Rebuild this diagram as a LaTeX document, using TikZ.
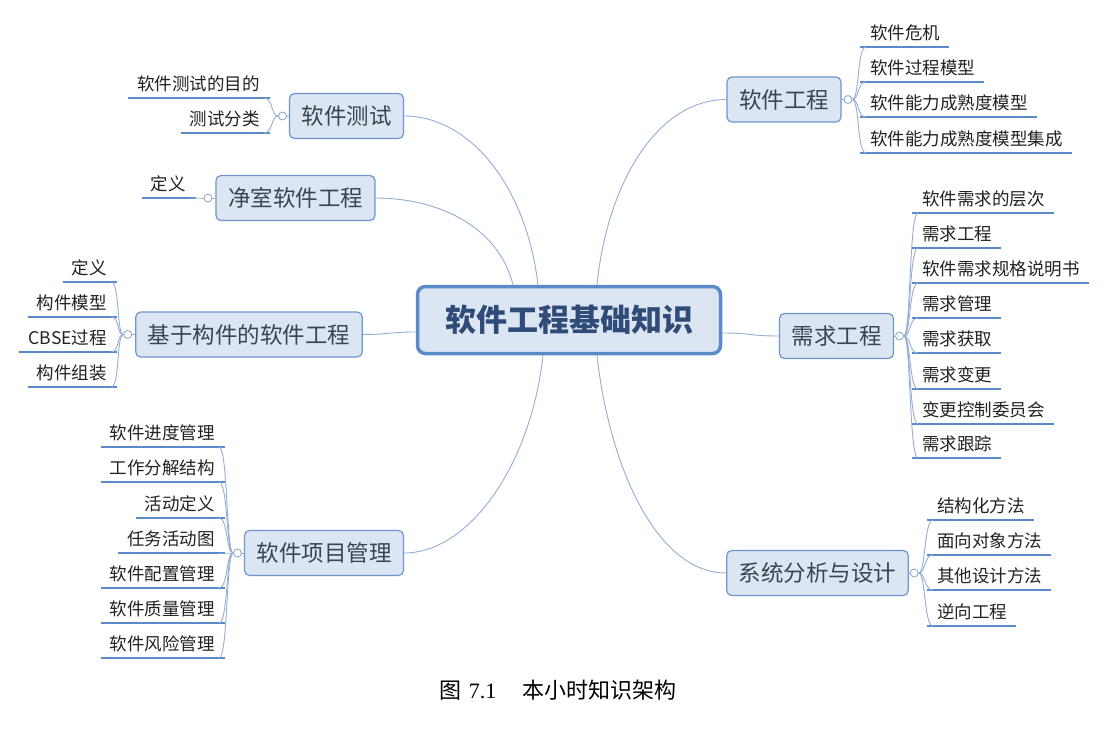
\documentclass[tikz,border=0pt]{standalone}
\usepackage{fontspec}
\setmainfont{Noto Sans CJK SC}
\newfontfamily\capserif{Liberation Serif}
\definecolor{topicline}{HTML}{6D96CE}
\definecolor{topicfill}{HTML}{DCE6F2}
\definecolor{topictext}{HTML}{3B4452}
\definecolor{roottext}{HTML}{2F4C78}
\definecolor{rootline}{HTML}{5A8AC8}
\definecolor{leaftext}{HTML}{222222}
\definecolor{connc}{HTML}{94AED5}
\definecolor{ulinec}{HTML}{5B8AC9}
\definecolor{dotc}{HTML}{8AA2C4}
\tikzset{
  topic/.style={draw=topicline, fill=topicfill, line width=1.2pt, rounded corners=5pt,
    minimum height=45pt, inner xsep=12pt, text=topictext, font=\fontsize{22.5}{26}\selectfont},
  rootbox/.style={draw=rootline, fill=topicfill, line width=3.5pt, rounded corners=8pt,
    minimum width=303pt, minimum height=67pt, text=roottext, font=\fontsize{31}{36}\selectfont\bfseries},
  leaf/.style={inner xsep=9pt, inner ysep=0pt, text=leaftext, font=\fontsize{17.5}{20}\selectfont},
  conn/.style={draw=connc, line width=0.9pt},
  uline/.style={draw=ulinec, line width=2.2pt},
  dot/.style={circle, draw=dotc, fill=white, line width=0.8pt, minimum size=8pt, inner sep=0pt},
}
\newcommand\rleaf[5]{%
  \node[leaf, anchor=base west] (#1) at (#3+1,#4-8) {#5};
  \coordinate (#1u) at (#3,#4);
  \draw[uline] (#1u) -- (#1.east |- #1u);
  \draw[conn] (#2.east) .. controls +(7,0) and +(-9,0) .. ([xshift=6pt]#1u);
}
\newcommand\lleaf[5]{%
  \node[leaf, anchor=base east] (#1) at (#3-1,#4-8) {#5};
  \coordinate (#1u) at (#3,#4);
  \draw[uline] (#1.west |- #1u) -- (#1u);
  \draw[conn] (#2.west) .. controls +(-7,0) and +(9,0) .. ([xshift=-6pt]#1u);
}
\begin{document}
\begin{tikzpicture}[x=1pt,y=-1pt]
\fill[white] (0,0) rectangle (1120,742);
\path[use as bounding box] (0,0) rectangle (1120,742);

% root
\node[rootbox] (root) at (569,320) {软件工程基础知识};

% main topics
\node[topic] (se)  at (784,99.5)  {软件工程};
\node[topic] (re)  at (836.5,336) {需求工程};
\node[topic] (sad) at (817.5,573) {系统分析与设计};
\node[topic] (st)  at (346.5,116) {软件测试};
\node[topic] (cr)  at (295.5,198) {净室软件工程};
\node[topic] (cb)  at (249,334.5) {基于构件的软件工程};
\node[topic] (pm)  at (324,553)   {软件项目管理};

% main connectors
\draw[conn] ([xshift=28pt]root.north) .. controls +(10,-100) and +(-70,0) .. (se.west);
\draw[conn] ([yshift=-13pt]root.east) .. controls +(28,0) and +(-28,0) .. (re.west);
\draw[conn] ([xshift=28pt]root.south) .. controls +(12,110) and +(-70,0) .. (sad.west);
\draw[conn] ([xshift=-31pt]root.north) .. controls +(-12,-100) and +(65,0) .. (st.east);
\draw[conn] ([xshift=-56pt]root.north) .. controls +(-15,-60) and +(60,0) .. (cr.east);
\draw[conn] ([yshift=-12pt]root.west) .. controls +(-25,0) and +(25,0) .. (cb.east);
\draw[conn] ([xshift=-26pt]root.south) .. controls +(-12,110) and +(65,0) .. (pm.east);

% collapse dots
\draw[conn] (se.east) -- ++(2,0) node[dot, anchor=west] (dse) {};
\draw[conn] (re.east) -- ++(1,0) node[dot, anchor=west] (dre) {};
\draw[conn] (sad.east) -- ++(1,0) node[dot, anchor=west] (dsad) {};
\draw[conn] (st.west) -- ++(-2,0) node[dot, anchor=east] (dst) {};
\draw[conn] (cr.west) -- ++(-3,0) node[dot, anchor=east] (dcr) {};
\draw[conn] (cb.west) -- ++(-3,0) node[dot, anchor=east] (dcb) {};
\draw[conn] (pm.west) -- ++(-2,0) node[dot, anchor=east] (dpm) {};

% 软件工程
\rleaf{a1}{dse}{860}{47}{软件危机}
\rleaf{a2}{dse}{860}{82}{软件过程模型}
\rleaf{a3}{dse}{860}{117}{软件能力成熟度模型}
\rleaf{a4}{dse}{860}{153}{软件能力成熟度模型集成}

% 需求工程
\rleaf{b1}{dre}{912}{213}{软件需求的层次}
\rleaf{b2}{dre}{912}{248}{需求工程}
\rleaf{b3}{dre}{912}{283}{软件需求规格说明书}
\rleaf{b4}{dre}{912}{318}{需求管理}
\rleaf{b5}{dre}{912}{353}{需求获取}
\rleaf{b6}{dre}{912}{389}{需求变更}
\rleaf{b7}{dre}{912}{424}{变更控制委员会}
\rleaf{b8}{dre}{912}{458}{需求跟踪}

% 系统分析与设计
\rleaf{c1}{dsad}{927}{520}{结构化方法}
\rleaf{c2}{dsad}{927}{555}{面向对象方法}
\rleaf{c3}{dsad}{927}{590}{其他设计方法}
\rleaf{c4}{dsad}{927}{626}{逆向工程}

% 软件测试
\lleaf{d1}{dst}{270}{98}{软件测试的目的}
\lleaf{d2}{dst}{270}{133}{测试分类}

% 净室软件工程
\lleaf{e1}{dcr}{196}{198}{定义}

% 基于构件的软件工程
\lleaf{f1}{dcb}{117}{282}{定义}
\lleaf{f2}{dcb}{117}{317}{构件模型}
\lleaf{f3}{dcb}{117}{352}{CBSE过程}
\lleaf{f4}{dcb}{117}{387}{构件组装}

% 软件项目管理
\lleaf{g1}{dpm}{225}{447}{软件进度管理}
\lleaf{g2}{dpm}{225}{482}{工作分解结构}
\lleaf{g3}{dpm}{225}{518}{活动定义}
\lleaf{g4}{dpm}{225}{553}{任务活动图}
\lleaf{g5}{dpm}{225}{588}{软件配置管理}
\lleaf{g6}{dpm}{225}{623}{软件质量管理}
\lleaf{g7}{dpm}{225}{658}{软件风险管理}

% caption
\node[font=\fontsize{22}{26}\selectfont, text=black] (cap) at (558,690)
  {图\hspace{7pt}{\capserif 7.1}\hspace{26pt}本小时知识架构};
\end{tikzpicture}
\end{document}
